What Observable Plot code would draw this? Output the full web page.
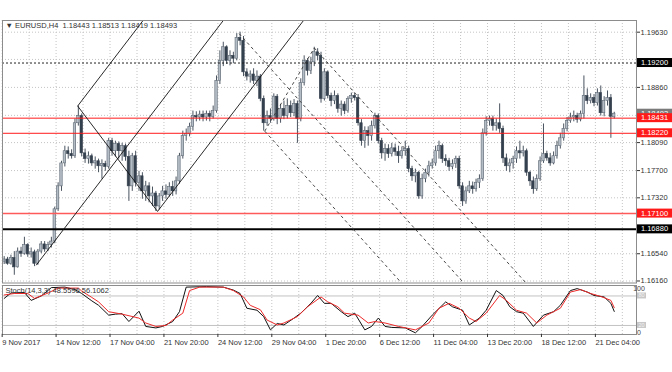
<!DOCTYPE html>
<html><head><meta charset="utf-8">
<script src="https://cdn.jsdelivr.net/npm/d3@7"></script>
<script src="https://cdn.jsdelivr.net/npm/@observablehq/plot@0.6"></script>
<style>
html,body{margin:0;padding:0;background:#fff;overflow:hidden;width:672px;height:372px;}
#chart{position:relative;width:672px;height:372px;overflow:hidden;background:#fff;}
#chart svg{display:block;}
</style></head><body><div id="chart"></div>
<script>
// ---------- DATA ----------
const barOpen = [1.1643,1.1646,1.1640,1.1648,1.1635,1.1657,1.1654,1.1666,1.1653,1.1656,
1.1640,1.1657,1.1667,1.1660,1.1666,1.1671,1.1716,1.1748,1.1780,1.1797,
1.1793,1.1790,1.1836,1.1846,1.1794,1.1786,1.1790,1.1780,1.1783,1.1776,
1.1779,1.1775,1.1811,1.1797,1.1807,1.1797,1.1804,1.1789,1.1748,1.1790,
1.1753,1.1762,1.1741,1.1748,1.1734,1.1738,1.1720,1.1734,1.1741,1.1736,
1.1747,1.1741,1.1755,1.1790,1.1818,1.1821,1.1831,1.1846,1.1844,1.1848,
1.1844,1.1849,1.1845,1.1853,1.1895,1.1923,1.1942,1.1923,1.1930,1.1926,
1.1955,1.1951,1.1907,1.1901,1.1904,1.1895,1.1901,1.1870,1.1836,1.1846,
1.1842,1.1873,1.1842,1.1856,1.1846,1.1860,1.1850,1.1863,1.1842,1.1892,
1.1923,1.1909,1.1921,1.1935,1.1930,1.1870,1.1907,1.1874,1.1867,1.1874,
1.1856,1.1862,1.1853,1.1870,1.1874,1.1871,1.1836,1.1811,1.1825,1.1818,
1.1832,1.1846,1.1811,1.1794,1.1800,1.1793,1.1801,1.1796,1.1790,1.1797,
1.1800,1.1772,1.1762,1.1767,1.1734,1.1758,1.1767,1.1776,1.1780,1.1797,
1.1804,1.1786,1.1783,1.1775,1.1779,1.1786,1.1748,1.1727,1.1741,1.1748,
1.1744,1.1753,1.1758,1.1822,1.1839,1.1842,1.1832,1.1836,1.1828,1.1787,
1.1776,1.1780,1.1786,1.1797,1.1794,1.1797,1.1767,1.1755,1.1744,1.1758,
1.1783,1.1793,1.1787,1.1780,1.1790,1.1804,1.1815,1.1828,1.1839,1.1844,
1.1846,1.1841,1.1849,1.1874,1.1867,1.1871,1.1864,1.1878,1.1850,1.1867,
1.1871,1.18443];
const barHigh = [1.1650,1.1649,1.1652,1.1657,1.1662,1.1663,1.1677,1.1668,1.1662,1.1659,
1.1660,1.1671,1.1671,1.1670,1.1677,1.1719,1.1753,1.1783,1.1804,1.1803,
1.1799,1.1842,1.1860,1.1849,1.1800,1.1796,1.1793,1.1789,1.1786,1.1785,
1.1783,1.1815,1.1815,1.1811,1.1810,1.1808,1.1807,1.1797,1.1794,1.1797,
1.1769,1.1767,1.1755,1.1753,1.1747,1.1741,1.1738,1.1748,1.1750,1.1753,
1.1755,1.1761,1.1794,1.1825,1.1828,1.1836,1.1853,1.1852,1.1853,1.1853,
1.1853,1.1853,1.1860,1.1902,1.1937,1.1949,1.1944,1.1937,1.1935,1.1961,
1.1963,1.1957,1.1912,1.1909,1.1912,1.1909,1.1904,1.1874,1.1853,1.1856,
1.1877,1.1876,1.1862,1.1867,1.1870,1.1867,1.1869,1.1867,1.1898,1.1930,
1.1926,1.1928,1.1942,1.1940,1.1935,1.1912,1.1909,1.1878,1.1881,1.1877,
1.1867,1.1866,1.1873,1.1878,1.1878,1.1876,1.1841,1.1831,1.1831,1.1839,
1.1850,1.1849,1.1815,1.1807,1.1806,1.1808,1.1807,1.1804,1.1803,1.1811,
1.1804,1.1776,1.1772,1.1769,1.1765,1.1772,1.1783,1.1786,1.1804,1.1811,
1.1807,1.1792,1.1787,1.1785,1.1790,1.1790,1.1753,1.1747,1.1755,1.1754,
1.1758,1.1764,1.1828,1.1845,1.1846,1.1846,1.1842,1.1863,1.1832,1.1793,
1.1786,1.1790,1.1803,1.1811,1.1804,1.1800,1.1769,1.1761,1.1764,1.1789,
1.1835,1.1797,1.1794,1.1796,1.1811,1.1822,1.1835,1.1844,1.1850,1.1853,
1.1850,1.1853,1.1902,1.1884,1.1877,1.1876,1.1884,1.1888,1.1873,1.1881,
1.1876,1.18513];
const barLow = [1.1639,1.1638,1.1638,1.1624,1.1634,1.1649,1.1652,1.1649,1.1648,1.1636,
1.1638,1.1654,1.1656,1.1657,1.1662,1.1668,1.1713,1.1741,1.1775,1.1786,
1.1786,1.1787,1.1832,1.1789,1.1780,1.1779,1.1776,1.1772,1.1767,1.1758,
1.1769,1.1772,1.1790,1.1789,1.1786,1.1783,1.1783,1.1727,1.1741,1.1747,
1.1741,1.1730,1.1727,1.1725,1.1720,1.1713,1.1715,1.1727,1.1730,1.1733,
1.1734,1.1736,1.1751,1.1786,1.1811,1.1817,1.1825,1.1838,1.1839,1.1838,
1.1839,1.1838,1.1842,1.1850,1.1890,1.1915,1.1918,1.1916,1.1919,1.1923,
1.1944,1.1901,1.1895,1.1892,1.1890,1.1887,1.1866,1.1825,1.1832,1.1836,
1.1839,1.1834,1.1836,1.1841,1.1842,1.1844,1.1845,1.1808,1.1838,1.1888,
1.1902,1.1904,1.1915,1.1923,1.1864,1.1867,1.1870,1.1859,1.1862,1.1850,
1.1846,1.1848,1.1850,1.1864,1.1867,1.1832,1.1804,1.1801,1.1804,1.1811,
1.1828,1.1807,1.1786,1.1783,1.1787,1.1789,1.1790,1.1780,1.1786,1.1790,
1.1767,1.1755,1.1753,1.1730,1.1730,1.1753,1.1761,1.1772,1.1776,1.1786,
1.1780,1.1776,1.1769,1.1771,1.1773,1.1744,1.1720,1.1723,1.1738,1.1737,
1.1740,1.1745,1.1755,1.1818,1.1832,1.1825,1.1825,1.1822,1.1780,1.1769,
1.1767,1.1772,1.1780,1.1786,1.1789,1.1762,1.1748,1.1737,1.1741,1.1755,
1.1780,1.1783,1.1776,1.1778,1.1786,1.1800,1.1811,1.1824,1.1836,1.1838,
1.1836,1.1838,1.1842,1.1862,1.1863,1.1859,1.1860,1.1846,1.1845,1.1860,
1.1815,1.18419];
const barClose = [1.1646,1.1640,1.1648,1.1635,1.1657,1.1654,1.1666,1.1653,1.1656,1.1640,
1.1657,1.1667,1.1660,1.1666,1.1671,1.1716,1.1748,1.1780,1.1797,1.1793,
1.1790,1.1836,1.1846,1.1794,1.1786,1.1790,1.1780,1.1783,1.1776,1.1779,
1.1775,1.1811,1.1797,1.1807,1.1797,1.1804,1.1789,1.1748,1.1790,1.1753,
1.1762,1.1741,1.1748,1.1734,1.1738,1.1720,1.1734,1.1741,1.1736,1.1747,
1.1741,1.1755,1.1790,1.1818,1.1821,1.1831,1.1846,1.1844,1.1848,1.1844,
1.1849,1.1845,1.1853,1.1895,1.1923,1.1942,1.1923,1.1930,1.1926,1.1955,
1.1951,1.1907,1.1901,1.1904,1.1895,1.1901,1.1870,1.1836,1.1846,1.1842,
1.1873,1.1842,1.1856,1.1846,1.1860,1.1850,1.1863,1.1842,1.1892,1.1923,
1.1909,1.1921,1.1935,1.1930,1.1870,1.1907,1.1874,1.1867,1.1874,1.1856,
1.1862,1.1853,1.1870,1.1874,1.1871,1.1836,1.1811,1.1825,1.1818,1.1832,
1.1846,1.1811,1.1794,1.1800,1.1793,1.1801,1.1796,1.1790,1.1797,1.1800,
1.1772,1.1762,1.1767,1.1734,1.1758,1.1767,1.1776,1.1780,1.1797,1.1804,
1.1786,1.1783,1.1775,1.1779,1.1786,1.1748,1.1727,1.1741,1.1748,1.1744,
1.1753,1.1758,1.1822,1.1839,1.1842,1.1832,1.1836,1.1828,1.1787,1.1776,
1.1780,1.1786,1.1797,1.1794,1.1797,1.1767,1.1755,1.1744,1.1758,1.1783,
1.1793,1.1787,1.1780,1.1790,1.1804,1.1815,1.1828,1.1839,1.1844,1.1846,
1.1841,1.1849,1.1874,1.1867,1.1871,1.1864,1.1878,1.1850,1.1867,1.1871,
1.1845,1.18493];

// Stochastic (14,3,3): main (%K) and signal (%D), read at selected bars
const stochKBars = [0,2,6,8,11,14,18,21,23,26,28,31,33,35,37,40,42,45,47,50,52,54,60,65,68,70,72,75,77,79,81,83,86,88,91,93,95,97,100,102,104,107,109,111,113,115,119,122,124,127,131,133,136,138,141,143,146,148,150,152,154,157,160,163,165,168,170,173,175,178,180,181];
const stochK = [75,86,87,71,80,97,98,93,85,70,61,41,43,44,28,49,18,15,18,28,48,98,99,98,92,85,55,51,38,11,24,21,35,45,65,81,65,65,48,38,45,11,18,35,18,16,15,5,18,41,68,58,51,21,35,51,91,81,58,48,45,18,41,48,61,91,95,88,81,78,65,48.5596];
const stochDBars = [0,3,7,9,13,16,22,23,26,28,31,35,40,42,45,48,50,53,55,58,65,68,71,73,76,78,81,83,87,90,94,96,99,101,105,108,110,113,117,122,126,129,132,135,138,140,143,147,149,152,155,158,161,165,168,171,174,177,180,181];
const stochD = [82,85,85,75,86,96,96,90,77,68,48,43,35,25,18,20,31,45,91,98,98,91,78,61,52,31,21,25,38,58,78,68,58,45,41,25,28,25,18,11,25,55,65,55,35,28,45,81,71,51,45,25,41,55,88,93,85,79,71,56.1062];
const stochLevels = [80, 20];

// Horizontal levels
const levelPrices = [1.19200, 1.18431, 1.18220, 1.17100, 1.16880];
const levelLabels = ["1.19200", "1.18431", "1.18220", "1.17100", "1.16880"];
const bidPrice = 1.18493;
const bidLabel = "1.18493";

// Andrews pitchforks: anchor bars and prices (A, B, C)
const solidForkBars = [9.5, 21.8, 45.5];
const solidForkPrices = [1.1638, 1.1860, 1.1713];
const dashedForkBars = [69.7, 77.3, 92.0];
const dashedForkPrices = [1.1961, 1.1825, 1.1941];

// Axis ticks
const priceGridLabels = ["1.19630","1.19250","1.18860","1.18470","1.18090","1.17700","1.17320","1.16540","1.16160"];
const priceTickLabels = ["1.19630","1.18860","1.18090","1.17700","1.17320","1.16540","1.16160"];
const timeTickBars = [0,16,32,48,64,80,96,112,128,144,160,176];
const timeLabels = ["9 Nov 2017","14 Nov 12:00","17 Nov 04:00","21 Nov 20:00","24 Nov 12:00","29 Nov 04:00","1 Dec 20:00","6 Dec 12:00","11 Dec 04:00","13 Dec 20:00","18 Dec 12:00","21 Dec 04:00"];
const gridBars = [0,8,16,24,32,40,48,56,64,72,80,88,96,104,112,120,128,136,144,152,160,168,176,184];

const chartTitle = "▼ EURUSD,H4  1.18443 1.18513 1.18419 1.18493";
const stochTitle = "Stoch(14,3,3) 48.5596 56.1062";

// ---------- BUILD ----------
const FONT = "'Liberation Sans', Arial, sans-serif";
const X_DOMAIN = [-0.5, 187.6];
const candles = barOpen.map((o, i) => ({i, open: o, high: barHigh[i], low: barLow[i], close: barClose[i]}));
const priceGridValues = priceGridLabels.map(Number);
const priceTickValues = priceTickLabels.map(Number);
const timeTickPos = timeTickBars.map(b => b - 0.6);
const gridPos = gridBars.map(b => b - 0.6);

function fork(bars, prices, t) {
  const P = bars.map((b, k) => [b, prices[k]]);
  const M = [(P[1][0] + P[2][0]) / 2, (P[1][1] + P[2][1]) / 2];
  const d = [M[0] - P[0][0], M[1] - P[0][1]];
  const lines = P.map(p => ({x1: p[0], y1: p[1], x2: p[0] + t * d[0], y2: p[1] + t * d[1]}));
  lines.push({x1: P[1][0], y1: P[1][1], x2: P[2][0], y2: P[2][1]});
  return lines;
}
const solidFork = fork(solidForkBars, solidForkPrices, 20);
const dashedFork = fork(dashedForkBars, dashedForkPrices, 20);

const bull = d => d.close >= d.open;
const main = Plot.plot({
  width: 672, height: 284,
  marginLeft: 2, marginRight: 36, marginTop: 20, marginBottom: 1.5,
  x: {domain: X_DOMAIN, axis: null, label: null},
  y: {domain: [1.16132, 1.19793], axis: null, label: null},
  style: {fontFamily: FONT, fontSize: "7.5px", color: "#333", background: "#fff"},
  marks: [
    Plot.ruleX(gridPos, {x: d => d, stroke: "#c4c4c4", strokeDasharray: "1,2"}),
    Plot.ruleY(priceGridValues, {y: d => d, stroke: "#c4c4c4", strokeDasharray: "1,2"}),
    Plot.ruleX(candles, {x: "i", y1: "low", y2: "high", stroke: "#4a5460", strokeWidth: 1}),
    Plot.rect(candles, {
      x1: d => d.i - 0.36, x2: d => d.i + 0.36, y1: "open", y2: "close",
      fill: d => bull(d) ? "#b4bcc5" : "#34404e",
      stroke: d => bull(d) ? "#5f6a76" : "#34404e", strokeWidth: 0.6
    }),
    Plot.ruleY([levelPrices[0]], {y: d => d, stroke: "#222", strokeDasharray: "2,2"}),
    Plot.ruleY([levelPrices[1], levelPrices[2]], {y: d => d, stroke: "#ff1a1a"}),
    Plot.ruleY([levelPrices[3]], {y: d => d, stroke: "#ff5a5a", strokeWidth: 1.5}),
    Plot.ruleY([levelPrices[4]], {y: d => d, stroke: "#000", strokeWidth: 2}),
    Plot.link(solidFork, {x1: "x1", y1: "y1", x2: "x2", y2: "y2", stroke: "#111", strokeWidth: 0.9, clip: true}),
    Plot.link(dashedFork, {x1: "x1", y1: "y1", x2: "x2", y2: "y2", stroke: "#333", strokeWidth: 0.9, strokeDasharray: "3,3", clip: true}),
    Plot.frame({stroke: "#8c8c8c"}),
    Plot.axisY({anchor: "right", label: null, ticks: priceTickValues, tickFormat: d => priceTickLabels[priceTickValues.indexOf(d)], tickSize: 3, tickPadding: 1, fontSize: 7.5}),
    Plot.text([chartTitle], {text: d => d, frameAnchor: "top-left", dx: 3, dy: 2.5, fill: "#333", fontSize: 7.5})
  ]
});

const kData = stochKBars.map((b, k) => ({b, v: stochK[k]}));
const dData = stochDBars.map((b, k) => ({b, v: stochD[k]}));
const stoch = Plot.plot({
  width: 672, height: 88,
  marginLeft: 2, marginRight: 36, marginTop: 1, marginBottom: 38,
  x: {domain: X_DOMAIN, axis: null, label: null},
  y: {domain: [1.6, 101.3], axis: null, label: null},
  style: {fontFamily: FONT, fontSize: "7.5px", color: "#333", background: "#fff"},
  marks: [
    Plot.ruleX(gridPos, {x: d => d, stroke: "#c4c4c4", strokeDasharray: "1,2"}),
    Plot.ruleY(stochLevels, {y: d => d, stroke: "#c2c2c2"}),
    Plot.line(kData, {x: "b", y: "v", stroke: "#111", strokeWidth: 1}),
    Plot.line(dData, {x: "b", y: "v", stroke: "#ee2a2a", strokeWidth: 1}),
    Plot.frame({stroke: "#8c8c8c"}),
    Plot.axisX({anchor: "bottom", label: null, ticks: timeTickPos, tickFormat: d => timeLabels[timeTickPos.indexOf(d)], tickSize: 3, tickPadding: 2, textAnchor: "start", fontSize: 7.5}),
    Plot.text([stochTitle], {text: d => d, frameAnchor: "top-left", dx: 3, dy: 2, fill: "#333", fontSize: 7.5})
  ]
});

const root = document.getElementById("chart");
root.appendChild(main);
root.appendChild(stoch);

// price boxes on the right axis, positioned by Plot's y scale
const ys = main.scale("y");
const g = d3.select(main).append("g").attr("font-family", FONT).attr("font-size", 7.5);
const boxes = [[bidPrice, bidLabel, "#7a7a7a"]].concat(
  levelPrices.map((p, k) => [p, levelLabels[k], (k === 0 || k === 4) ? "#000" : "#ff1a1a"]));
for (const [p, label, color] of boxes) {
  const y = ys.apply(p);
  g.append("rect").attr("x", 637).attr("y", y - 4.5).attr("width", 35).attr("height", 9).attr("fill", color);
  g.append("text").attr("x", 654.5).attr("y", y).attr("dy", "0.35em").attr("text-anchor", "middle").attr("fill", "#fff").text(label);
}

// stochastic scale labels
const ss = stoch.scale("y");
const gs = d3.select(stoch).append("g").attr("font-family", FONT).attr("font-size", 7.5);
for (const lv of stochLevels) {
  const y = ss.apply(lv);
  gs.append("rect").attr("x", 637).attr("y", y - 3).attr("width", 9).attr("height", 6).attr("fill", "#c8c8c8");
  gs.append("text").attr("x", 641.5).attr("y", y).attr("dy", "0.35em").attr("text-anchor", "middle").attr("font-size", 5.5).attr("fill", "#f4f4f4").text(String(lv));
}
gs.append("text").attr("x", 639).attr("y", ss.apply(100) + 2.5).attr("dy", "0.35em").attr("font-size", 7).attr("fill", "#444").text("100");
gs.append("text").attr("x", 639).attr("y", ss.apply(0) - 2.5).attr("dy", "0.35em").attr("font-size", 7).attr("fill", "#444").text("0");
</script></body></html>
